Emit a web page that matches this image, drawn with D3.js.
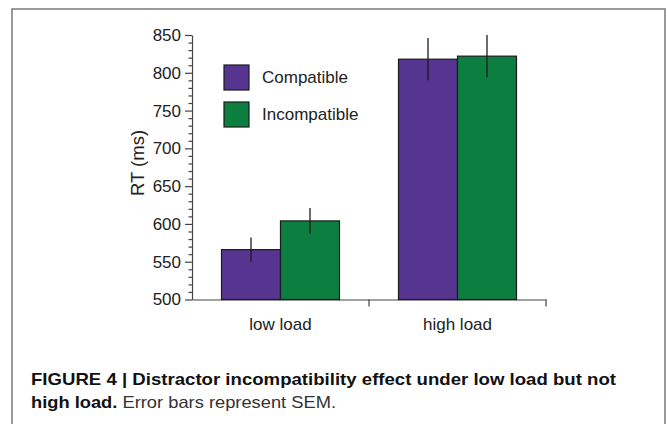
<!DOCTYPE html>
<html lang="en">
<head>
<meta charset="UTF-8">
<title>Figure 4 - RT by load</title>
<script src="https://d3js.org/d3.v7.min.js"></script>
<style>
    body { margin: 0; background: #fff; }
    svg { display: block; font-family: "Liberation Sans", Arial, Helvetica, sans-serif; }
    .axis text { font-size: 17px; fill: #222; }
    .axis path, .axis line { stroke: #444; stroke-width: 1.2px; }
    .caption { font-family: "Liberation Sans", Arial, sans-serif; font-size: 16.5px; fill: #111; }
</style>
</head>
<body>
<script>
    // data
    const loads = ["low load", "high load"];
    const conditions = ["Compatible", "Incompatible"];
    const rtMeans = [[566, 604], [818, 822]];   // [load][condition]
    const rtSem = [[16, 17], [28, 28]];
    const yTicks = [500, 550, 600, 650, 700, 750, 800, 850];
    const colors = ["#553590", "#0b7e40"];

    const W = 667, H = 424;
    const svg = d3.select("body").append("svg").attr("width", W).attr("height", H);

    // frame around the figure (open at the bottom)
    svg.append("path")
        .attr("d", "M12,424 V9 H665 V424")
        .attr("fill", "none").attr("stroke", "#7a7a7a").attr("stroke-width", 1.5);

    const plotLeft = 192, plotRight = 546, plotTop = 35, plotBottom = 299.5;

    const y = d3.scaleLinear().domain([500, 850]).range([plotBottom, plotTop]);
    const x0 = d3.scaleBand().domain(loads).range([plotLeft, plotRight])
        .paddingInner(1 / 3).paddingOuter(1 / 6);
    const x1 = d3.scaleBand().domain(conditions).range([0, x0.bandwidth()]);

    // minor ticks every 10 ms
    const yMinor = d3.range(500, 851, 10).filter(v => v % 50 !== 0);
    svg.append("g").attr("class", "axis")
        .attr("transform", `translate(${plotLeft},0)`)
        .call(d3.axisLeft(y).tickValues(yMinor).tickSize(3.5).tickFormat(""))
        .call(g => g.select(".domain").remove())
        .selectAll("line").attr("stroke", "#999").attr("stroke-width", 1);

    svg.append("g").attr("class", "axis")
        .attr("transform", `translate(${plotLeft},0)`)
        .call(d3.axisLeft(y).tickValues(yTicks).tickSize(7).tickPadding(4).tickSizeOuter(0));

    // x axis: labels at band centres, ticks at band edges
    const xAxis = svg.append("g").attr("class", "axis")
        .attr("transform", `translate(0,${plotBottom})`)
        .call(d3.axisBottom(x0).tickSize(0).tickPadding(18).tickSizeOuter(0));
    xAxis.selectAll("text").attr("dy", "0.71em");
    const step = x0.step();
    const edges = [plotLeft + step, plotRight];
    xAxis.selectAll(".edge").data(edges).enter().append("line")
        .attr("class", "edge")
        .attr("x1", d => d).attr("x2", d => d)
        .attr("y1", 0).attr("y2", 7);

    // bars
    const groups = svg.selectAll(".grp").data(loads).enter().append("g")
        .attr("class", "grp")
        .attr("transform", d => `translate(${x0(d)},0)`);

    groups.selectAll("rect")
        .data((d, i) => conditions.map((c, j) => ({ c, j, v: rtMeans[i][j], e: rtSem[i][j] })))
        .enter().append("rect")
        .attr("x", d => x1(d.c))
        .attr("y", d => y(d.v))
        .attr("width", x1.bandwidth())
        .attr("height", d => plotBottom - y(d.v))
        .attr("fill", d => colors[d.j])
        .attr("stroke", "#1c1c1c").attr("stroke-width", 1.2);

    groups.selectAll(".err")
        .data((d, i) => conditions.map((c, j) => ({ c, v: rtMeans[i][j], e: rtSem[i][j] })))
        .enter().append("line")
        .attr("class", "err")
        .attr("x1", d => x1(d.c) + x1.bandwidth() / 2)
        .attr("x2", d => x1(d.c) + x1.bandwidth() / 2)
        .attr("y1", d => y(d.v + d.e))
        .attr("y2", d => y(d.v - d.e))
        .attr("stroke", "#1c1c1c").attr("stroke-width", 1.3);

    // y label
    svg.append("text")
        .attr("transform", "translate(144,163) rotate(-90)")
        .attr("text-anchor", "middle")
        .attr("font-size", 18.5).attr("fill", "#222")
        .text("RT (ms)");

    // legend
    const legend = svg.selectAll(".leg").data(conditions).enter().append("g")
        .attr("class", "leg")
        .attr("transform", (d, i) => `translate(224,${65 + i * 37})`);
    legend.append("rect")
        .attr("width", 25).attr("height", 25)
        .attr("fill", (d, i) => colors[i])
        .attr("stroke", "#1c1c1c").attr("stroke-width", 1.2);
    legend.append("text")
        .attr("x", 38).attr("y", 12.5).attr("dy", "0.35em")
        .attr("font-size", 17).attr("fill", "#222")
        .text(d => d);

    // caption
    svg.append("text").attr("class", "caption")
        .attr("x", 31).attr("y", 384.5)
        .attr("font-weight", "bold")
        .attr("textLength", 585).attr("lengthAdjust", "spacingAndGlyphs")
        .text("FIGURE 4 | Distractor incompatibility effect under low load but not");

    const cap2 = svg.append("text").attr("class", "caption")
        .attr("x", 31).attr("y", 408)
        .attr("textLength", 305).attr("lengthAdjust", "spacingAndGlyphs");
    cap2.append("tspan").attr("font-weight", "bold").text("high load.");
    cap2.append("tspan").attr("fill", "#333").text(" Error bars represent SEM.");
</script>
</body>
</html>
